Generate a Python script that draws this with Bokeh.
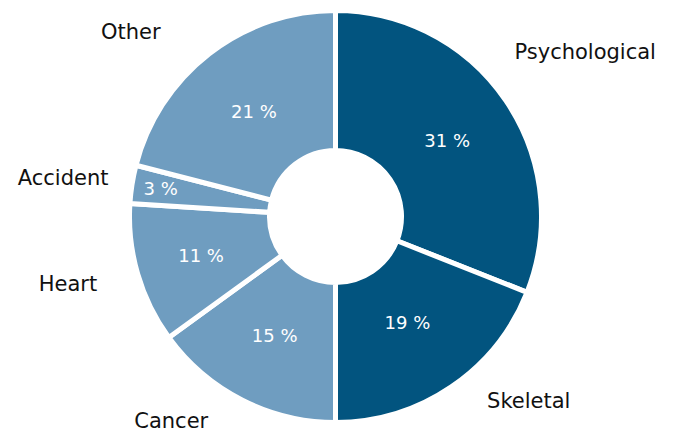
import math
from bokeh.plotting import figure, ColumnDataSource
from bokeh.models import Range1d
from bokeh.core.properties import value
from bokeh.embed import file_html
from bokeh.resources import INLINE

# ---- data ----
categories = ["Psychological", "Skeletal", "Cancer", "Heart", "Accident", "Other"]
shares = [31, 19, 15, 11, 3, 21]
pct_labels = ["31 %", "19 %", "15 %", "11 %", "3 %", "21 %"]

# ---- style ----
DARK = "#02547f"
LIGHT = "#6f9dc0"
slice_colors = [DARK, DARK, LIGHT, LIGHT, LIGHT, LIGHT]
W, H = 674, 432
CX, CY = 335, H - 216
R_OUT, R_IN = 206, 66
GAP = 5
FONT = "DejaVu Sans"
# per-label pixel nudges (dx, dy screen-down) for outer category labels
label_nudge = [(-22, -28), (15, -16), (-17, -12), (-5, 0), (13, 0), (-26, 8)]
# radial position of the percentage labels inside the ring
pct_radius = [135, 128, 134, 140, 177, 133]

total = float(sum(shares))
starts, ends, mids = [], [], []
acc = 0.0
for s in shares:
    a0 = acc / total
    acc += s
    a1 = acc / total
    starts.append(math.pi / 2 - a0 * 2 * math.pi)
    ends.append(math.pi / 2 - a1 * 2 * math.pi)
    mids.append((a0 + a1) / 2 * 2 * math.pi)  # clockwise from top

src = ColumnDataSource(dict(x=[CX] * len(shares), y=[CY] * len(shares),
                            start=starts, end=ends, color=slice_colors))

p = figure(width=W, height=H, x_range=Range1d(0, W), y_range=Range1d(0, H),
           toolbar_location=None, output_backend="svg", min_border=0)
p.axis.visible = False
p.grid.visible = False
p.outline_line_color = None
p.background_fill_color = "white"

p.annular_wedge(x="x", y="y", inner_radius=R_IN, outer_radius=R_OUT,
                start_angle="start", end_angle="end", direction="clock",
                fill_color="color", line_color="white", line_width=GAP, source=src)

# percentage labels inside the ring
px, py = [], []
for r, m in zip(pct_radius, mids):
    px.append(CX + r * math.sin(m))
    py.append(CY + r * math.cos(m))
p.text(x=px, y=py, text=pct_labels, text_color="white",
       text_font=value(FONT), text_font_size="18px",
       text_align="center", text_baseline="middle")

# category labels outside
lx, ly, la = [], [], []
for m, (dx, dy) in zip(mids, label_nudge):
    r = 243
    lx.append(CX + r * math.sin(m) + dx)
    ly.append(CY + r * math.cos(m) - dy)
    la.append("left" if math.sin(m) > 0 else "right")
lsrc = ColumnDataSource(dict(x=lx, y=ly, text=categories, align=la))
p.text(x="x", y="y", text="text", text_align="align", source=lsrc,
       text_color="#111111", text_font=value(FONT), text_font_size="21px",
       text_baseline="middle")

open("out.html", "w").write(file_html(p, INLINE))
